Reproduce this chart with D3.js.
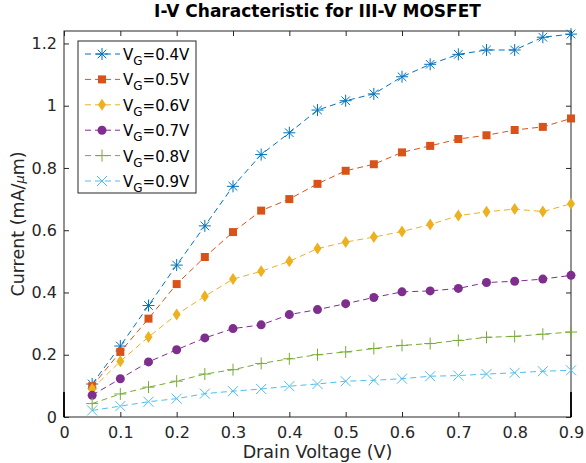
<!DOCTYPE html>
<html>
<head>
<meta charset="utf-8">
<script src="https://cdn.jsdelivr.net/npm/d3@7"></script>
<style>
  body { margin: 0; background: #fff; }
  text { font-family: "DejaVu Sans", sans-serif; }
</style>
</head>
<body>
<script>
var width = 586, height = 463
var margin = {top: 31, right: 15, bottom: 46, left: 64}

// drain voltage (V)
var vd = [0.05, 0.1, 0.15, 0.2, 0.25, 0.3, 0.35, 0.4, 0.45, 0.5, 0.55, 0.6, 0.65, 0.7, 0.75, 0.8, 0.85, 0.9]

// current (mA/um), one array per gate voltage
var vg04 = [0.106, 0.228, 0.358, 0.488, 0.614, 0.741, 0.843, 0.913, 0.986, 1.016, 1.038, 1.093, 1.133, 1.165, 1.179, 1.179, 1.220, 1.230]
var vg05 = [0.099, 0.209, 0.316, 0.427, 0.514, 0.594, 0.663, 0.700, 0.749, 0.791, 0.812, 0.850, 0.871, 0.893, 0.905, 0.922, 0.932, 0.959]
var vg06 = [0.090, 0.179, 0.257, 0.329, 0.388, 0.443, 0.468, 0.500, 0.541, 0.562, 0.578, 0.596, 0.618, 0.647, 0.659, 0.668, 0.660, 0.685]
var vg07 = [0.070, 0.123, 0.177, 0.216, 0.254, 0.284, 0.296, 0.329, 0.345, 0.364, 0.384, 0.402, 0.405, 0.413, 0.432, 0.436, 0.443, 0.455]
var vg08 = [0.043, 0.074, 0.096, 0.115, 0.138, 0.152, 0.172, 0.187, 0.200, 0.209, 0.220, 0.230, 0.236, 0.246, 0.256, 0.259, 0.266, 0.273]
var vg09 = [0.021, 0.035, 0.049, 0.059, 0.075, 0.083, 0.090, 0.099, 0.106, 0.115, 0.118, 0.123, 0.131, 0.133, 0.138, 0.142, 0.147, 0.150]

var gateLabels = ["0.4V", "0.5V", "0.6V", "0.7V", "0.8V", "0.9V"]
var colors = ["#0072BD", "#D95319", "#EDB120", "#7E2F8E", "#77AC30", "#4DBEEE"]
var markers = ["star", "square", "diamond", "circle", "plus", "cross"]

var xTicks = [0, 0.1, 0.2, 0.3, 0.4, 0.5, 0.6, 0.7, 0.8, 0.9]
var yTicks = [0, 0.2, 0.4, 0.6, 0.8, 1, 1.2]

var series = [vg04, vg05, vg06, vg07, vg08, vg09].map(function(vals, i) {
  return {
    label: gateLabels[i],
    color: colors[i],
    marker: markers[i],
    points: vals.map(function(v, j) { return [vd[j], v] })
  }
})

var svg = d3.select("body").append("svg")
  .attr('width', width)
  .attr('height', height)

var plotW = width - margin.left - margin.right
var plotH = height - margin.top - margin.bottom

var x = d3.scaleLinear().domain([0, 0.9]).range([0, plotW])
var y = d3.scaleLinear().domain([0, 1.24]).range([plotH, 0])

var g = svg.append("g")
  .attr('transform', 'translate(' + margin.left + ',' + margin.top + ')')

var axisColor = "#262626"
var fmt = function(d) { return d3.format("~g")(d) }

function styleAxis(sel, showLabels) {
  sel.select(".domain").remove()
  sel.selectAll(".tick line").attr('stroke', axisColor)
  sel.selectAll(".tick text")
    .attr('fill', axisColor)
    .style('font-size', '16px')
  if (!showLabels) sel.selectAll(".tick text").remove()
}

g.append("g")
  .attr('transform', 'translate(0,' + plotH + ')')
  .call(d3.axisBottom(x).tickValues(xTicks).tickFormat(fmt).tickSizeInner(-5).tickSizeOuter(0).tickPadding(10))
  .call(styleAxis, true)

g.append("g")
  .call(d3.axisTop(x).tickValues(xTicks).tickSizeInner(-5).tickSizeOuter(0))
  .call(styleAxis, false)

g.append("g")
  .call(d3.axisLeft(y).tickValues(yTicks).tickFormat(fmt).tickSizeInner(-5).tickSizeOuter(0).tickPadding(7))
  .call(styleAxis, true)

g.append("g")
  .attr('transform', 'translate(' + plotW + ',0)')
  .call(d3.axisRight(y).tickValues(yTicks).tickSizeInner(-5).tickSizeOuter(0))
  .call(styleAxis, false)

// box
g.append("rect")
  .attr('width', plotW)
  .attr('height', plotH)
  .attr('fill', 'none')
  .attr('stroke', axisColor)
  .attr('stroke-width', 1)

// darker stub at the bottom of both vertical sides
;[0, plotW].forEach(function(px) {
  g.append("line")
    .attr('x1', px).attr('x2', px)
    .attr('y1', y(0)).attr('y2', y(0.08))
    .attr('stroke', '#000')
    .attr('stroke-width', 1.8)
})

var line = d3.line()
  .x(function(d) { return x(d[0]) })
  .y(function(d) { return y(d[1]) })

function drawMarker(sel, type, color) {
  if (type == "star") {
    sel.append("path")
      .attr('d', "M-6,0H6M0,-6V6M-4.3,-4.3L4.3,4.3M-4.3,4.3L4.3,-4.3")
      .attr('stroke', color).attr('stroke-width', 1).attr('fill', 'none')
  } else if (type == "square") {
    sel.append("rect")
      .attr('x', -4).attr('y', -4).attr('width', 8).attr('height', 8)
      .attr('fill', color)
  } else if (type == "diamond") {
    sel.append("path")
      .attr('d', "M0,-6L4,0L0,6L-4,0Z")
      .attr('fill', color)
  } else if (type == "circle") {
    sel.append("circle")
      .attr('r', 4.5)
      .attr('fill', color)
  } else if (type == "plus") {
    sel.append("path")
      .attr('d', "M-6,0H6M0,-6V6")
      .attr('stroke', color).attr('stroke-width', 1).attr('fill', 'none')
  } else if (type == "cross") {
    sel.append("path")
      .attr('d', "M-5,-5L5,5M-5,5L5,-5")
      .attr('stroke', color).attr('stroke-width', 1).attr('fill', 'none')
  }
}

series.forEach(function(s) {
  g.append("path")
    .datum(s.points)
    .attr('d', line)
    .attr('fill', 'none')
    .attr('stroke', s.color)
    .attr('stroke-width', 1)
    .attr('stroke-dasharray', '6,4')

  g.selectAll(null)
    .data(s.points)
    .enter().append("g")
    .attr('transform', function(d) { return 'translate(' + x(d[0]) + ',' + y(d[1]) + ')' })
    .each(function() { drawMarker(d3.select(this), s.marker, s.color) })
})

// legend
var legend = svg.append("g").attr('transform', 'translate(78,41)')
legend.append("rect")
  .attr('width', 118)
  .attr('height', 152)
  .attr('fill', '#fff')
  .attr('stroke', axisColor)

series.forEach(function(s, i) {
  var row = legend.append("g").attr('transform', 'translate(0,' + (13 + i * 25.4) + ')')
  row.append("line")
    .attr('x1', 7).attr('x2', 42)
    .attr('stroke', s.color)
    .attr('stroke-dasharray', '6,4')
  var m = row.append("g").attr('transform', 'translate(24,0)')
  drawMarker(m, s.marker, s.color)
  var t = row.append("text")
    .attr('x', 45)
    .attr('y', 6)
    .attr('fill', '#000')
    .style('font-size', '15px')
  t.append("tspan").text("V")
  t.append("tspan").attr('dy', 5).style('font-size', '12px').text("G")
  t.append("tspan").attr('dy', -5).text("=" + s.label)
})

// title and axis labels
svg.append("text")
  .attr('x', margin.left + plotW / 2)
  .attr('y', 17)
  .attr('text-anchor', 'middle')
  .style('font-size', '17px')
  .style('font-weight', 'bold')
  .attr('fill', '#000')
  .text("I-V Characteristic for III-V MOSFET")

svg.append("text")
  .attr('x', margin.left + plotW / 2)
  .attr('y', 458)
  .attr('text-anchor', 'middle')
  .style('font-size', '17.5px')
  .attr('fill', axisColor)
  .text("Drain Voltage (V)")

var yl = svg.append("text")
  .attr('transform', 'translate(24,' + (margin.top + plotH / 2) + ') rotate(-90)')
  .attr('text-anchor', 'middle')
  .style('font-size', '17.5px')
  .attr('fill', axisColor)
yl.append("tspan").text("Current (mA/")
yl.append("tspan").style('font-style', 'italic').style('font-size', '13px').text("\u03bc")
yl.append("tspan").text("m)")
</script>
</body>
</html>
